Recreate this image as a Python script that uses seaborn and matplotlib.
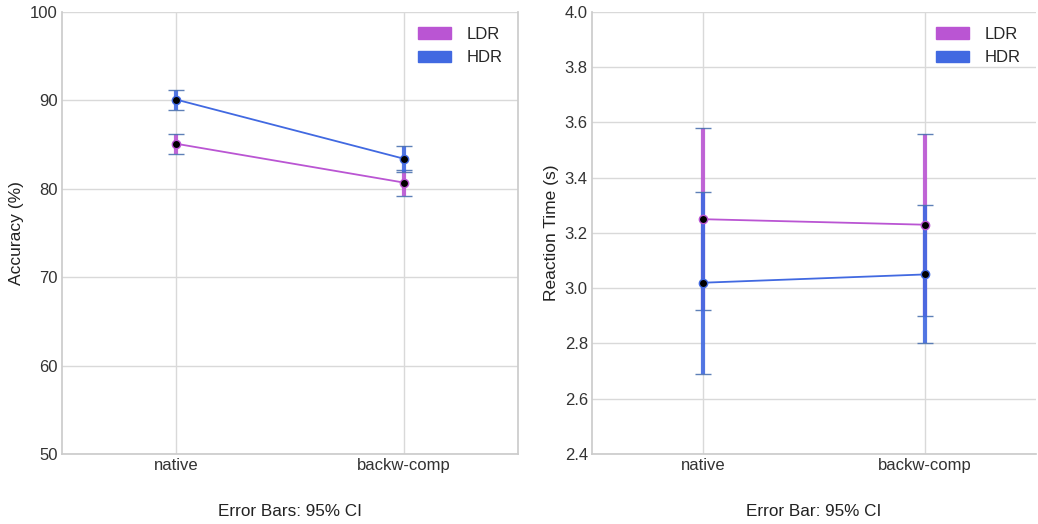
import pandas as pd
import matplotlib.pyplot as plt
import matplotlib.patches as mpatches
import seaborn as sns

# --- data ---
conditions = ['native', 'backw-comp']
groups = ['LDR', 'HDR']
colors = {'LDR': '#BA55D3', 'HDR': '#4169E1'}

acc_mean = {'LDR': [85.1, 80.7], 'HDR': [90.1, 83.4]}
acc_lo = {'LDR': [83.9, 79.2], 'HDR': [88.9, 81.9]}
acc_hi = {'LDR': [86.2, 82.1], 'HDR': [91.2, 84.8]}

rt_mean = {'LDR': [3.25, 3.23], 'HDR': [3.02, 3.05]}
rt_lo = {'LDR': [2.92, 2.90], 'HDR': [2.69, 2.80]}
rt_hi = {'LDR': [3.58, 3.56], 'HDR': [3.35, 3.30]}


def to_frame(mean, lo, hi):
    rows = []
    for g in groups:
        for i, c in enumerate(conditions):
            rows.append({'group': g, 'cond': c, 'x': i,
                         'mean': mean[g][i], 'lo': lo[g][i], 'hi': hi[g][i]})
    return pd.DataFrame(rows)


def draw_panel(ax, df, ylabel, xlabel, ylim, yticks):
    for g in groups:
        d = df[df['group'] == g]
        ax.errorbar(d['x'], d['mean'],
                    yerr=[d['mean'] - d['lo'], d['hi'] - d['mean']],
                    fmt='none', ecolor=colors[g], elinewidth=3, capsize=6,
                    capthick=1.5, alpha=0.9, zorder=2)
    sns.lineplot(data=df, x='x', y='mean', hue='group', palette=colors,
                 hue_order=groups, linewidth=1.3, marker='o', markersize=6,
                 legend=False, ax=ax, zorder=3)
    for line in ax.lines:
        line.set_markerfacecolor('black')
        line.set_markeredgecolor(line.get_color())
        line.set_markeredgewidth(1)
    ax.set_xlim(-0.5, 1.5)
    ax.set_xticks([0, 1])
    ax.set_xticklabels(conditions)
    ax.set_ylim(*ylim)
    ax.set_yticks(yticks)
    ax.set_ylabel(ylabel, fontsize=12.5, color='#222222')
    ax.set_xlabel(xlabel, fontsize=12.3, labelpad=22, color='#222222')
    ax.tick_params(labelsize=12, length=0, pad=3, labelcolor='#333333')
    handles = [mpatches.Patch(color=colors[g], label=g) for g in groups]
    ax.legend(handles=handles, loc='upper right', frameon=False,
              fontsize=12, handlelength=2.0, handleheight=0.7,
              handletextpad=0.95, borderaxespad=0.5)


sns.set_theme(style='whitegrid')
plt.rcParams['font.family'] = ['Liberation Sans', 'DejaVu Sans']
plt.rcParams['axes.edgecolor'] = '#cccccc'
plt.rcParams['grid.color'] = '#d9d9d9'

fig = plt.figure(figsize=(10.38, 5.24), dpi=100)
ax1 = fig.add_axes([0.0597, 0.1336, 0.4393, 0.8435])
ax2 = fig.add_axes([0.5703, 0.1336, 0.4277, 0.8435])

draw_panel(ax1, to_frame(acc_mean, acc_lo, acc_hi), 'Accuracy (%)',
           'Error Bars: 95% CI', (50, 100), [50, 60, 70, 80, 90, 100])
draw_panel(ax2, to_frame(rt_mean, rt_lo, rt_hi), 'Reaction Time (s)',
           'Error Bar: 95% CI', (2.4, 4.0),
           [2.4, 2.6, 2.8, 3.0, 3.2, 3.4, 3.6, 3.8, 4.0])
ax2.set_yticklabels([f'{v:.1f}' for v in ax2.get_yticks()])

for ax in (ax1, ax2):
    ax.spines['top'].set_visible(False)
ax2.spines['right'].set_visible(False)

fig.savefig('out.png', dpi=100)
